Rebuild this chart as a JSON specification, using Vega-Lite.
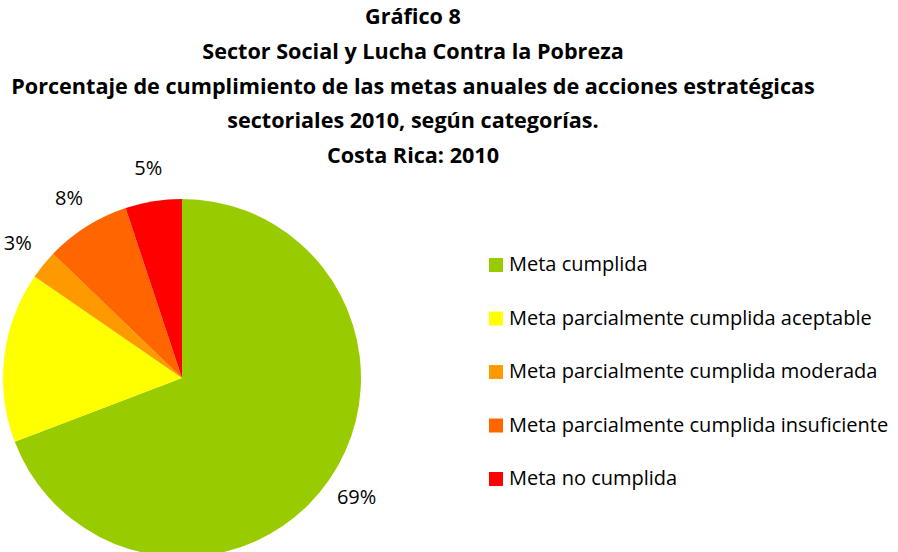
{
  "$schema": "https://vega.github.io/schema/vega-lite/v6.json",
  "width": 364,
  "height": 364,
  "autosize": {"type": "none"},
  "padding": {"left": 0, "top": 196, "right": 534, "bottom": 0},
  "background": "white",
  "title": {
    "text": ["Gráfico 8", "Sector Social y Lucha Contra la Pobreza", "Porcentaje de cumplimiento de las metas anuales de acciones estratégicas", "sectoriales 2010, según categorías.", "Costa Rica: 2010"],
    "font": "Open Sans",
    "fontSize": 21.6,
    "fontWeight": "bold",
    "color": "#000000",
    "lineHeight": 34.7,
    "anchor": "middle",
    "dx": 231,
    "offset": -9
  },
  "data": {
    "values": [
      {"cat": "Meta cumplida", "pct": 0.692, "orden": 1},
      {"cat": "Meta parcialmente cumplida aceptable", "pct": 0.154, "orden": 2},
      {"cat": "Meta parcialmente cumplida  moderada", "pct": 0.026, "orden": 3},
      {"cat": "Meta parcialmente cumplida insuficiente", "pct": 0.077, "orden": 4},
      {"cat": "Meta no cumplida", "pct": 0.051, "orden": 5}
    ]
  },
  "encoding": {
    "theta": {"field": "pct", "type": "quantitative", "stack": true},
    "order": {"field": "orden", "type": "quantitative"}
  },
  "layer": [
    {
      "mark": {"type": "arc", "radius": 179},
      "encoding": {
        "color": {
          "field": "cat",
          "type": "nominal",
          "sort": null,
          "scale": {
            "domain": ["Meta cumplida", "Meta parcialmente cumplida aceptable", "Meta parcialmente cumplida  moderada", "Meta parcialmente cumplida insuficiente", "Meta no cumplida"],
            "range": ["#99CC00", "#FFFF00", "#FF9900", "#FF6600", "#FF0000"]
          },
          "legend": {
            "title": null,
            "orient": "none",
            "legendX": 486,
            "legendY": 59,
            "symbolType": "square",
            "symbolSize": 196,
            "symbolStrokeWidth": 0,
            "labelFont": "Open Sans",
            "labelFontSize": 20,
            "labelColor": "#000000",
            "labelOffset": 3,
            "rowPadding": 33.5,
            "labelLimit": 500
          }
        }
      }
    },
    {
      "mark": {"type": "text", "radius": 212, "font": "Open Sans", "fontSize": 20, "color": "#000000"},
      "encoding": {
        "text": {"field": "pct", "type": "quantitative", "format": ".0%"},
        "opacity": {"condition": {"test": "datum.cat === 'Meta parcialmente cumplida aceptable'", "value": 0}, "value": 1}
      }
    }
  ]
}
